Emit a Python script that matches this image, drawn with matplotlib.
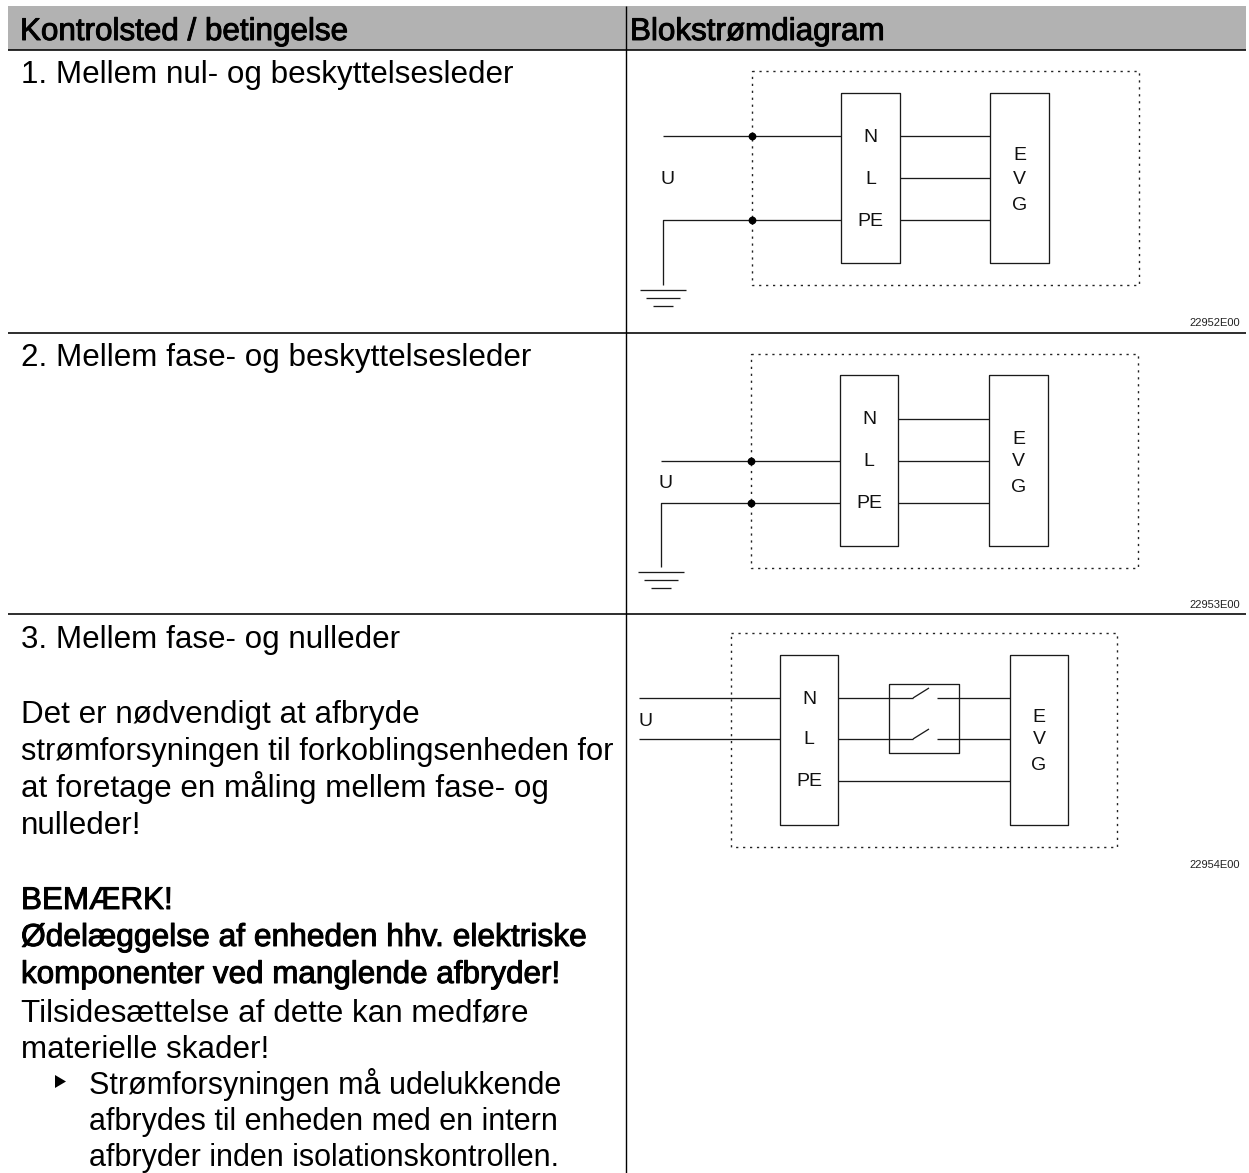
import matplotlib
matplotlib.use('Agg')
from matplotlib import pyplot as plt
from matplotlib import patheffects

WIDTH, HEIGHT = 1249, 1173
FONT = 'Liberation Sans'

HEADERS = ['Kontrolsted / betingelse', 'Blokstrømdiagram']
BODY_LINES = [
    '1. Mellem nul- og beskyttelsesleder',
    '2. Mellem fase- og beskyttelsesleder',
    '3. Mellem fase- og nulleder',
    'Det er nødvendigt at afbryde',
    'strømforsyningen til forkoblingsenheden for',
    'at foretage en måling mellem fase- og',
    'nulleder!',
    'BEMÆRK!',
    'Ødelæggelse af enheden hhv. elektriske',
    'komponenter ved manglende afbryder!',
    'Tilsidesættelse af dette kan medføre',
    'materielle skader!',
]
ACTION_LINES = [
    'Strømforsyningen må udelukkende',
    'afbrydes til enheden med en intern',
    'afbryder inden isolationskontrollen.',
]
DRAWING_CODES = ['22952E00', '22953E00', '22954E00']

# layout, in pixels of the picture
HEADER_X = [20, 630]
HEADER_BASELINE = 40
BODY_X = 21
BODY_BASELINES = [83, 366, 648, 723, 760, 797, 834, 909, 946, 983, 1021, 1058]
BODY_BOLD = {7, 8, 9}
BODY_SIZES = {4: 22.25, 8: 22.85}
ACTION_X = 89
ACTION_BASELINES = [1094, 1130, 1166]
CODE_BASELINES = [326, 608, 868]

# x0, x1, y0, y1 of the dotted housing per diagram
HOUSINGS = [(752, 1139, 71, 285), (751, 1138, 354, 568), (731, 1117, 633, 847)]
NL_BLOCKS = [(841, 900, 93, 263), (840, 898, 375, 546), (780, 838, 655, 825)]
EVG_BLOCKS = [(990, 1049, 93, 263), (989, 1048, 375, 546), (1010, 1068, 655, 825)]
WIRE_Y = [(136, 178, 220), (419, 461, 503), (698, 739, 781)]
U_POS = [(668, 178), (666, 482), (646, 721)]
LEFT_X = [663, 661, 639]
GROUND_Y = [290, 572]
GROUND_X = [663, 661]


def px_line(axes, xs, ys, width=1.3, color='#1a1a1a', **kwargs):
    axes.plot(xs, ys, color=color, linewidth=width * 0.72, solid_capstyle='butt', **kwargs)


def block(axes, box, labels, label_ys, label_x):
    x0, x1, y0, y1 = box
    px_line(axes, [x0, x1, x1, x0, x0], [y0, y0, y1, y1, y0])
    for label, y in zip(labels, label_ys):
        axes.text(label_x, y + 1, label, fontsize=14, family=FONT, ha='center', va='center', color='#111111')


def draw_diagram(axes, index):
    x0, x1, y0, y1 = HOUSINGS[index]
    axes.plot([x0, x1, x1, x0, x0], [y0, y0, y1, y1, y0], color='#222222', linewidth=1.0,
              linestyle=(0, (1.6, 3.4)))

    nl = NL_BLOCKS[index]
    evg = EVG_BLOCKS[index]
    top, middle, bottom = WIRE_Y[index]
    block(axes, nl, ['N', 'L', 'PE'], [top, middle, bottom], (nl[0] + nl[1]) / 2)
    block(axes, evg, ['E', 'V', 'G'], [middle - 23, middle, middle + 26], (evg[0] + evg[1]) / 2)
    axes.text(U_POS[index][0], U_POS[index][1] + 1, 'U', fontsize=14, family=FONT, ha='center', va='center',
              color='#111111')

    left = LEFT_X[index]
    if index == 2:
        px_line(axes, [left, nl[0]], [top, top])
        px_line(axes, [left, nl[0]], [middle, middle])
        px_line(axes, [nl[1], evg[0]], [bottom, bottom])
        for y in (top, middle):
            px_line(axes, [nl[1], 913], [y, y])
            px_line(axes, [913, 929], [y, y - 10])
            px_line(axes, [937, evg[0]], [y, y])
        px_line(axes, [889, 959, 959, 889, 889], [684, 684, 753, 753, 684])
    else:
        feed = top if index == 0 else middle
        ground_x = GROUND_X[index]
        ground_y = GROUND_Y[index]
        px_line(axes, [left, nl[0]], [feed, feed])
        px_line(axes, [ground_x, ground_x, nl[0]], [ground_y - 5, bottom, bottom])
        for y in (top, middle, bottom):
            px_line(axes, [nl[1], evg[0]], [y, y])
        axes.plot([x0, x0], [feed, bottom], linestyle='none', marker='o', markersize=4.6, color='black')
        for half, offset in ((23, 0), (17, 8), (10, 16)):
            px_line(axes, [ground_x - half, ground_x + half], [ground_y + offset, ground_y + offset])

    axes.text(1240, CODE_BASELINES[index], DRAWING_CODES[index], fontsize=8, family=FONT, ha='right',
              va='baseline', color='#222222')


def main():
    figure = plt.figure(figsize=(WIDTH / 100, HEIGHT / 100), dpi=100)
    axes = figure.add_axes([0, 0, 1, 1])
    axes.set_xlim(0, WIDTH)
    axes.set_ylim(HEIGHT, 0)
    axes.axis('off')

    axes.fill_between([8, 1246], 6, 50, color='#b2b2b2', linewidth=0, zorder=0)
    px_line(axes, [8, 1246], [50, 50], width=1.6, color='black')
    px_line(axes, [8, 1246], [333, 333], width=1.6, color='black')
    px_line(axes, [8, 1246], [614, 614], width=1.6, color='black')
    px_line(axes, [626, 626], [6, HEIGHT], width=1.4, color='black')

    faux_bold = [patheffects.withStroke(linewidth=0.7, foreground='black')]
    for label, x in zip(HEADERS, HEADER_X):
        axes.text(x, HEADER_BASELINE, label, fontsize=22.6, family=FONT, va='baseline', color='black',
                  path_effects=faux_bold)

    for index, (label, y) in enumerate(zip(BODY_LINES, BODY_BASELINES)):
        text = axes.text(BODY_X, y, label, fontsize=BODY_SIZES.get(index, 22.6), family=FONT, va='baseline',
                         color='black')
        if index in BODY_BOLD:
            text.set_path_effects(faux_bold)

    for label, y in zip(ACTION_LINES, ACTION_BASELINES):
        axes.text(ACTION_X, y, label, fontsize=22.0, family=FONT, va='baseline', color='black')
    axes.fill([55, 66, 55], [1075, 1081.5, 1088], color='black', linewidth=0)

    for index in range(3):
        draw_diagram(axes, index)

    figure.savefig('out.png', dpi=100)
    plt.close(figure)


if __name__ == '__main__':
    main()
